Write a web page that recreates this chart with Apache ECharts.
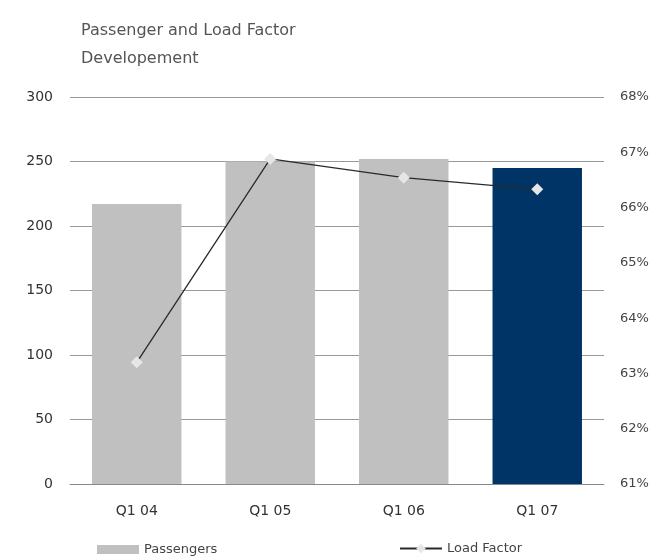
<!DOCTYPE html>
<html>
<head>
<meta charset="utf-8">
<script src="https://cdn.jsdelivr.net/npm/echarts@6/dist/echarts.min.js"></script>
<style>
  html, body { margin: 0; padding: 0; background: #fff; }
  #chart { width: 664px; height: 560px; }
</style>
</head>
<body>
<div id="chart"></div>
<script>
const categories = ["Q1 04", "Q1 05", "Q1 06", "Q1 07"];
const passengers = [217, 250, 252, 245];
const loadFactor = [63.2, 66.88, 66.54, 66.33];
const barColors = ["#c0c0c0", "#c0c0c0", "#c0c0c0", "#003366"];

const font = "DejaVu Sans";
const chart = echarts.init(document.getElementById("chart"));

const option = {
  animation: false,
  textStyle: { fontFamily: font },
  title: {
    text: "Passenger and Load Factor\nDevelopement",
    left: 76,
    top: 12,
    textStyle: {
      fontFamily: font,
      fontSize: 16,
      fontWeight: "normal",
      color: "#555",
      lineHeight: 28
    }
  },
  legend: [
    {
      data: [{ name: "Passengers", icon: "rect" }],
      left: 92,
      top: 538,
      itemWidth: 42,
      itemHeight: 9,
      itemGap: 4,
      textStyle: { fontFamily: font, fontSize: 13, color: "#444" }
    },
    {
      data: ["Load Factor"],
      left: 394,
      top: 537,
      itemWidth: 42,
      itemHeight: 12,
      textStyle: { fontFamily: font, fontSize: 13, color: "#444" }
    }
  ],
  grid: {
    left: 70,
    right: 60,
    top: 97,
    bottom: 76
  },
  xAxis: {
    type: "category",
    data: categories,
    axisTick: { show: false },
    axisLine: { lineStyle: { color: "#888", width: 1 } },
    axisLabel: { fontFamily: font, fontSize: 14, color: "#333", margin: 20 }
  },
  yAxis: [
    {
      type: "value",
      min: 0,
      max: 300,
      interval: 50,
      axisLine: { show: false },
      axisTick: { show: false },
      splitLine: { lineStyle: { color: "#999", width: 1 } },
      axisLabel: { fontFamily: font, fontSize: 14, color: "#333", margin: 17 }
    },
    {
      type: "value",
      min: 61,
      max: 68,
      interval: 1,
      position: "right",
      axisLine: { show: false },
      axisTick: { show: false },
      splitLine: { show: false },
      axisLabel: {
        fontFamily: font,
        fontSize: 13,
        color: "#444",
        margin: 16,
        formatter: "{value}%"
      }
    }
  ],
  series: [
    {
      name: "Passengers",
      type: "bar",
      data: passengers.map((v, i) => ({ value: v, itemStyle: { color: barColors[i] } })),
      itemStyle: { color: "#c0c0c0" },
      barCategoryGap: "33%"
    },
    {
      name: "Load Factor",
      type: "line",
      yAxisIndex: 1,
      data: loadFactor,
      symbol: "diamond",
      symbolSize: 12,
      showAllSymbol: true,
      lineStyle: { color: "#2a2a2a", width: 1.3 },
      itemStyle: { color: "#e6e6e6", borderWidth: 0 }
    }
  ]
};

chart.setOption(option);
</script>
</body>
</html>
